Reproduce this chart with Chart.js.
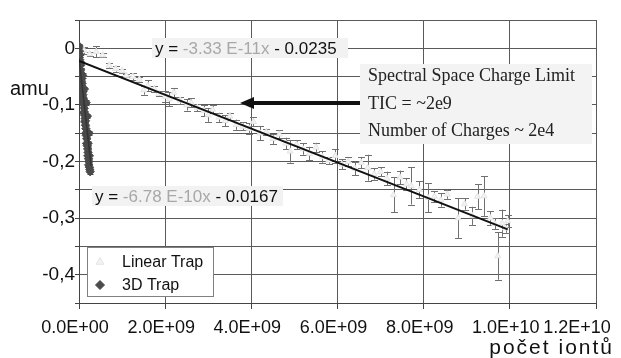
<!DOCTYPE html>
<html>
<head>
<meta charset="utf-8">
<script src="https://cdn.jsdelivr.net/npm/chart.js@4.4.0/dist/chart.umd.min.js"></script>
<style>
  html, body { margin: 0; padding: 0; background: #fff; }
</style>
</head>
<body>
<canvas id="chart" width="621" height="358"></canvas>
<script>
// x values are given in units of 1e9 ions
const ionUnit = 1e9;

// Linear Trap: x, mass shift (amu), half error bar
const linearX = [0.12, 0.25, 0.40, 0.55, 0.70, 0.85, 1.00, 1.10, 1.25, 1.40, 1.50, 1.60, 1.75, 1.85,
  2.00, 2.10, 2.20, 2.35, 2.50, 2.60, 2.75, 2.90, 3.00, 3.10, 3.25, 3.40, 3.50, 3.65, 3.80, 3.95,
  4.05, 4.20, 4.35, 4.50, 4.65, 4.80, 4.90, 5.05, 5.20, 5.35, 5.50, 5.65, 5.80, 5.95, 6.10, 6.25,
  6.40, 6.55, 6.70, 6.85, 7.00, 7.15, 7.30, 7.45, 7.60, 7.71, 7.90, 8.10, 8.25, 8.40, 8.55, 8.80,
  8.95, 9.13, 9.25, 9.40, 9.55, 9.65, 9.72, 9.82, 9.90, 9.95];
const linearY = [-0.004, -0.010, -0.006, -0.012, -0.030, -0.036, -0.040, -0.048, -0.050, -0.055, -0.074, -0.066, -0.072, -0.080,
  -0.085, -0.090, -0.078, -0.092, -0.100, -0.096, -0.105, -0.110, -0.118, -0.108, -0.122, -0.128, -0.120, -0.135, -0.138, -0.142,
  -0.130, -0.150, -0.148, -0.160, -0.152, -0.168, -0.182, -0.170, -0.178, -0.186, -0.175, -0.192, -0.198, -0.190, -0.205, -0.200,
  -0.212, -0.202, -0.211, -0.222, -0.218, -0.230, -0.259, -0.228, -0.240, -0.243, -0.250, -0.264, -0.262, -0.268, -0.258, -0.300,
  -0.275, -0.296, -0.262, -0.261, -0.300, -0.310, -0.367, -0.309, -0.318, -0.305];
const linearErr = [0.006, 0.004, 0.010, 0.003, 0.004, 0.005, 0.004, 0.003, 0.006, 0.004, 0.008, 0.010, 0.006, 0.005,
  0.009, 0.012, 0.008, 0.006, 0.010, 0.008, 0.006, 0.010, 0.012, 0.007, 0.008, 0.010, 0.006, 0.009, 0.007, 0.010,
  0.008, 0.012, 0.006, 0.009, 0.007, 0.010, 0.020, 0.008, 0.010, 0.012, 0.008, 0.010, 0.006, 0.012, 0.009, 0.008,
  0.012, 0.010, 0.023, 0.010, 0.008, 0.012, 0.031, 0.012, 0.010, 0.033, 0.015, 0.026, 0.010, 0.012, 0.008, 0.035,
  0.010, 0.016, 0.022, 0.035, 0.012, 0.010, 0.042, 0.024, 0.008, 0.010];

// 3D Trap
const trap3dX = [0.00, 0.01, 0.02, 0.015, 0.03, 0.04, 0.035, 0.05, 0.06, 0.055, 0.07, 0.08, 0.075, 0.09, 0.10,
  0.095, 0.11, 0.12, 0.115, 0.13, 0.14, 0.135, 0.15, 0.16, 0.155, 0.17, 0.18, 0.175, 0.19, 0.20, 0.21,
  0.205, 0.22, 0.23, 0.225, 0.24, 0.25, 0.26,
  0.03, 0.06, 0.09, 0.12, 0.15, 0.18, 0.21, 0.24, 0.005, 0.045, 0.085, 0.125, 0.165, 0.195, 0.235];
const trap3dY = [0.004, -0.005, -0.012, -0.020, -0.025, -0.030, -0.038, -0.045, -0.050, -0.058, -0.062, -0.070, -0.078, -0.082, -0.088,
  -0.095, -0.100, -0.106, -0.114, -0.118, -0.124, -0.130, -0.136, -0.142, -0.150, -0.154, -0.160, -0.168, -0.172, -0.178, -0.184,
  -0.190, -0.195, -0.200, -0.206, -0.210, -0.214, -0.218,
  -0.040, -0.066, -0.090, -0.112, -0.128, -0.150, -0.168, -0.190, -0.012, -0.026, -0.048, -0.072, -0.096, -0.120, -0.150];
const trap3dErr = 0.004;

// trend lines as they appear on the plot
const linearFitX = [0, 9.95];
const linearFitY = [-0.0224, -0.3200];
const trap3dFitX = [0, 0.28];
const trap3dFitY = [-0.0167, -0.2070];

const xTicks = [0, 2, 4, 6, 8, 10, 12];

const toPoints = (xs, ys) => xs.map((x, i) => ({ x: x * ionUnit, y: ys[i] }));

function sciLabel(v) {
  const parts = v.toExponential(1).split('e');
  const exp = parts[1];
  return parts[0] + 'E' + exp[0] + exp.slice(1).padStart(2, '0');
}

const errorBars = {
  id: 'errorBars',
  beforeDatasetsDraw(chart) {
    const ctx = chart.ctx;
    const sx = chart.scales.x, sy = chart.scales.y;
    const area = chart.chartArea;
    ctx.save();
    ctx.beginPath();
    ctx.rect(area.left, area.top, area.right - area.left, area.bottom - area.top);
    ctx.clip();
    const draw = (xs, ys, errs, color, cap) => {
      ctx.strokeStyle = color;
      ctx.lineWidth = 1;
      xs.forEach((x, i) => {
        const e = Array.isArray(errs) ? errs[i] : errs;
        const px = Math.round(sx.getPixelForValue(x * ionUnit)) + 0.5;
        const y1 = sy.getPixelForValue(ys[i] + e);
        const y2 = sy.getPixelForValue(ys[i] - e);
        ctx.beginPath();
        ctx.moveTo(px, y1); ctx.lineTo(px, y2);
        ctx.moveTo(px - cap, Math.round(y1) + 0.5); ctx.lineTo(px + cap, Math.round(y1) + 0.5);
        ctx.moveTo(px - cap, Math.round(y2) + 0.5); ctx.lineTo(px + cap, Math.round(y2) + 0.5);
        ctx.stroke();
      });
    };
    draw(linearX, linearY, linearErr, '#707070', 3.5);
    draw(trap3dX, trap3dY, trap3dErr, '#444', 3);
    ctx.restore();
  }
};

function drawEquation(ctx, x, y, parts, boxW) {
  ctx.font = '17px "Liberation Sans", Arial, sans-serif';
  ctx.fillStyle = '#f2f2f2';
  ctx.fillRect(x - 3, y - 10, boxW, 20);
  ctx.textBaseline = 'middle';
  ctx.textAlign = 'left';
  let cx = x;
  parts.forEach(([t, c]) => {
    ctx.fillStyle = c;
    ctx.fillText(t, cx, y + 1);
    cx += ctx.measureText(t).width;
  });
}

const annotations = {
  id: 'annotations',
  afterDatasetsDraw(chart) {
    const ctx = chart.ctx;
    ctx.save();

    drawEquation(ctx, 155, 48, [['y = ', '#111'], ['-3.33 E-11x', '#a8a8a8'], [' - 0.0235', '#111']], 196);
    drawEquation(ctx, 95, 196, [['y = ', '#111'], ['-6.78 E-10x', '#a8a8a8'], [' - 0.0167', '#111']], 191);

    // arrow
    ctx.strokeStyle = '#111';
    ctx.fillStyle = '#111';
    ctx.lineWidth = 4;
    ctx.beginPath();
    ctx.moveTo(250, 103); ctx.lineTo(362, 103);
    ctx.stroke();
    ctx.beginPath();
    ctx.moveTo(240, 103); ctx.lineTo(254, 97); ctx.lineTo(254, 109); ctx.closePath();
    ctx.fill();

    // text box
    ctx.fillStyle = '#f3f3f3';
    ctx.fillRect(360, 64, 232, 80);
    ctx.fillStyle = '#222';
    ctx.font = '18px "Liberation Serif", "Times New Roman", serif';
    ctx.textBaseline = 'middle';
    ctx.fillText('Spectral Space Charge Limit', 368, 76);
    ctx.fillText('TIC = ~2e9', 368, 104);
    ctx.fillText('Number of Charges ~ 2e4', 368, 131);

    // legend
    ctx.fillStyle = '#fff';
    ctx.fillRect(87, 247, 126, 50);
    ctx.strokeStyle = '#808080';
    ctx.lineWidth = 1;
    ctx.strokeRect(87.5, 247.5, 126, 49);
    const ds = chart.data.datasets;
    ctx.fillStyle = ds[2].backgroundColor;
    ctx.strokeStyle = ds[2].borderColor;
    Chart.helpers.drawPoint(ctx, { pointStyle: 'triangle', radius: 4.5, borderWidth: 1 }, 100, 262);
    ctx.fillStyle = ds[3].backgroundColor;
    ctx.strokeStyle = ds[3].borderColor;
    Chart.helpers.drawPoint(ctx, { pointStyle: 'rectRot', radius: 4.5, borderWidth: 1 }, 100, 285);
    ctx.fillStyle = '#111';
    ctx.font = '16px "Liberation Sans", Arial, sans-serif';
    ctx.fillText(ds[2].label, 122, 263);
    ctx.fillText(ds[3].label, 122, 286);

    // axis titles
    ctx.font = '20px "Liberation Sans", Arial, sans-serif';
    ctx.fillText('amu', 10, 89);
    ctx.textAlign = 'right';
    ctx.textBaseline = 'alphabetic';
    ctx.font = '21px "Liberation Sans", Arial, sans-serif';
    ctx.letterSpacing = '2px';
    ctx.fillText('počet iontů', 614, 354);
    ctx.restore();
  }
};

const gridColor = '#5a5a5a';

new Chart(document.getElementById('chart'), {
  type: 'scatter',
  data: {
    datasets: [
      {
        type: 'line', label: 'fit linear', data: toPoints(linearFitX, linearFitY),
        borderColor: '#111', borderWidth: 2, pointRadius: 0, order: 0
      },
      {
        type: 'line', label: 'fit 3D', data: toPoints(trap3dFitX, trap3dFitY),
        borderColor: '#333', borderWidth: 1.5, pointRadius: 0, order: 0
      },
      {
        label: 'Linear Trap', data: toPoints(linearX, linearY),
        pointStyle: 'triangle', pointRadius: 3.5, backgroundColor: '#f3f3f3', borderColor: '#e4e4e4',
        borderWidth: 1, order: 2
      },
      {
        label: '3D Trap', data: toPoints(trap3dX, trap3dY),
        pointStyle: 'rectRot', pointRadius: 4.2, backgroundColor: '#4a4a4a', borderColor: '#4a4a4a',
        borderWidth: 1, order: 1
      }
    ]
  },
  options: {
    responsive: false,
    animation: false,
    layout: { padding: { top: 20, right: 25, left: 0, bottom: 0 } },
    plugins: { legend: { display: false }, tooltip: { enabled: false } },
    scales: {
      x: {
        type: 'linear', min: 0, max: 12 * ionUnit,
        afterBuildTicks: (s) => { s.ticks = xTicks.map(v => ({ value: v * ionUnit })); },
        afterFit: (s) => { s.height = 55; s.paddingRight = 20; },
        grid: { color: gridColor, tickLength: 6, tickColor: '#444' },
        border: { color: '#444' },
        ticks: {
          color: '#111', padding: 8, labelOffset: -4, maxRotation: 0, autoSkip: false,
          font: { family: '"Liberation Sans", Arial, sans-serif', size: 18 },
          callback: (v) => {
            const label = sciLabel(v);
            // last label is pulled left so it stays inside the picture
            return v >= 12 * ionUnit ? label + '\u00a0'.repeat(6) : label;
          }
        }
      },
      y: {
        min: -0.45, max: 0.05,
        ticks: {
          stepSize: 0.05, color: '#111', padding: 0,
          font: { family: '"Liberation Sans", Arial, sans-serif', size: 19 },
          callback: (v) => {
            const r = Math.round(v * 100) / 100;
            if (r > 0 || Math.abs(r * 10 - Math.round(r * 10)) > 1e-6) return '';
            return r === 0 ? '0' : r.toFixed(1).replace('.', ',');
          }
        },
        afterFit: (s) => { s.width = 79; },
        grid: { color: gridColor, tickLength: 4, tickColor: '#444' },
        border: { color: '#444' }
      }
    }
  },
  plugins: [errorBars, annotations]
});
</script>
</body>
</html>
